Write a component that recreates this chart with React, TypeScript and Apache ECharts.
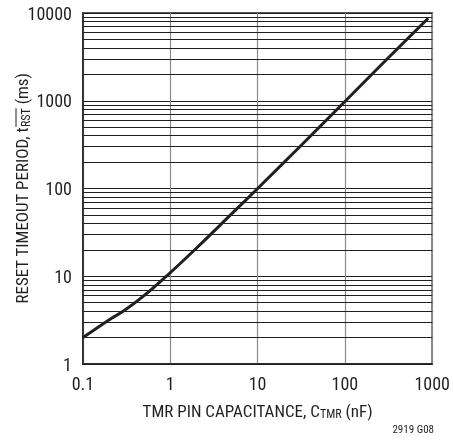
import React, { useEffect, useRef } from "react";
import * as echarts from "echarts";

const capacitanceNF = [0.1, 0.2, 0.3, 0.5, 1, 2, 5, 10, 30, 100, 300, 900];
const timeoutMs = [2.0, 3.2, 4.1, 6.0, 11, 21, 51, 100, 295, 980, 2950, 8700];
const xTickLabels = ["0.1", "1", "10", "100", "1000"];
const yTickLabels = ["1", "10", "100", "1000", "10000"];
const yDecades = [1, 10, 100, 1000];
const minorSteps = [2, 3, 4, 5, 6, 7, 8, 9];

const FONT = '"Liberation Sans Narrow", "Roboto Condensed", "DejaVu Sans Condensed", "Liberation Sans", sans-serif';
const INK = "#231f20";

function measure(text: string, size: number): number {
  const c = document.createElement("canvas").getContext("2d");
  if (!c) return text.length * size * 0.45;
  c.font = `${size}px ${FONT}`;
  return c.measureText(text).width;
}

function fmt(v: number, labels: string[]): string {
  const s = String(Number(v.toPrecision(3)));
  return labels.includes(s) ? s : "";
}

export default function App() {
  const ref = useRef<HTMLDivElement>(null);
  useEffect(() => {
    if (!ref.current) return;
    const chart = echarts.init(ref.current, undefined, { renderer: "svg" });
    const gridLeft = 83, gridTop = 13, gridRight = 18, gridBottom = 80;
    const H = 444;
    const plotCy = (gridTop + (H - gridBottom)) / 2;

    const minorLines: number[] = [];
    yDecades.forEach((d) => minorSteps.forEach((s) => minorLines.push(d * s)));

    const mainSize = 17, subSize = 12;
    const p1 = "RESET TIMEOUT PERIOD, t";
    const p2 = "RST";
    const p3 = " (ms)";
    const w1 = measure(p1, mainSize), w2 = measure(p2, subSize), w3 = measure(p3, mainSize);
    const totalW = w1 + w2 + w3;
    const ovStart = -totalW / 2 + w1;

    chart.setOption({
      animation: false,
      grid: {
        left: gridLeft, top: gridTop, right: gridRight, bottom: gridBottom,
        show: true, borderColor: INK, borderWidth: 1.5, backgroundColor: "transparent",
      },
      xAxis: {
        type: "log", logBase: 10, min: 0.1, max: 1000,
        axisLine: { show: true, lineStyle: { color: INK, width: 1.5 } },
        axisTick: { show: false },
        axisLabel: {
          color: INK, fontFamily: FONT, fontSize: 18, margin: 10,
          formatter: (v: number) => fmt(v, xTickLabels),
        },
        splitLine: { show: true, lineStyle: { color: "#8a8a8a", width: 1.2 } },
        minorTick: { show: false },
        name: "TMR PIN CAPACITANCE, C{sub|TMR} (nF)",
        nameLocation: "middle",
        nameGap: 37,
        nameTextStyle: {
          color: INK, fontFamily: FONT, fontSize: 17,
          rich: { sub: { fontSize: 12, fontFamily: FONT, color: INK, padding: [7, 0, 0, 0] } },
        },
      },
      yAxis: {
        type: "log", logBase: 10, min: 1, max: 10000,
        axisLine: { show: true, lineStyle: { color: INK, width: 1.5 } },
        axisTick: { show: false },
        axisLabel: {
          color: INK, fontFamily: FONT, fontSize: 18, margin: 11,
          formatter: (v: number) => fmt(v, yTickLabels),
        },
        splitLine: { show: true, lineStyle: { color: INK, width: 1.2 } },
      },
      graphic: [
        {
          type: "group",
          x: 22, y: plotCy, rotation: Math.PI / 2,
          children: [
            {
              type: "text",
              x: 0, y: 0,
              style: {
                text: `${p1}{sub|${p2}}${p3}`,
                fill: INK, font: `${mainSize}px ${FONT}`,
                align: "center", verticalAlign: "middle",
                rich: { sub: { fontSize: subSize, fontFamily: FONT, fill: INK, padding: [7, 0, 0, 0] } },
              },
            },
            {
              type: "line",
              shape: { x1: ovStart, y1: -6, x2: ovStart + w2, y2: -6 },
              style: { stroke: INK, lineWidth: 1 },
            },
          ],
        },
        {
          type: "text",
          right: 19, top: 424,
          style: { text: "2919 G08", fill: INK, font: `11px ${FONT}` },
        },
      ],
      series: [
        {
          type: "line", data: [], z: 1, silent: true,
          markLine: {
            silent: true, symbol: ["none", "none"], label: { show: false },
            lineStyle: { color: INK, width: 1.2, type: "solid" },
            data: minorLines.map((v) => ({ yAxis: v })),
          },
        },
        {
          type: "line", z: 5, smooth: 0.4, showSymbol: false,
          lineStyle: { color: INK, width: 3 },
          data: capacitanceNF.map((c, i) => [c, timeoutMs[i]]),
        },
      ],
    });
    return () => chart.dispose();
  }, []);
  return <div ref={ref} style={{ position: "fixed", left: 0, top: 0, width: 453, height: 444 }} />;
}
